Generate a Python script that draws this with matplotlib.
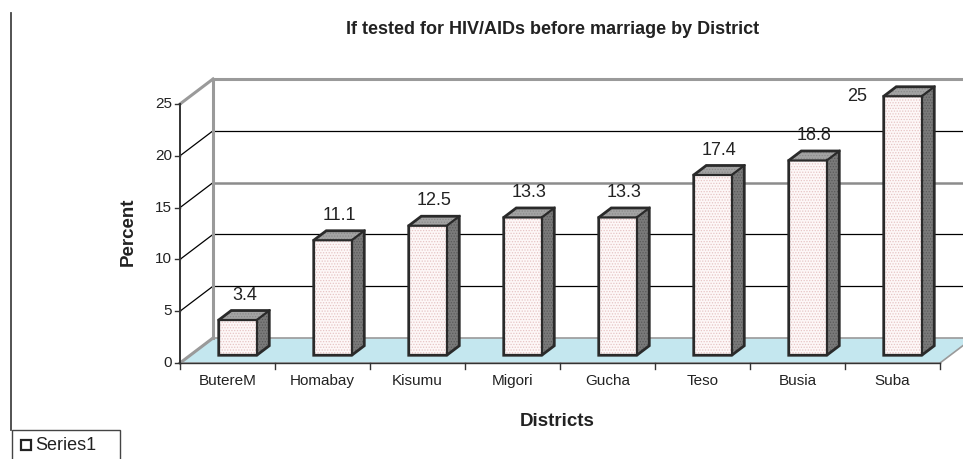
import numpy as np
import matplotlib
matplotlib.use("Agg")
import matplotlib.pyplot as plt
from matplotlib.patches import Polygon, Rectangle
from matplotlib.lines import Line2D

plt.rcParams['font.family'] = ['Liberation Sans', 'DejaVu Sans']
plt.rcParams['hatch.linewidth'] = 0.6

districts = ["ButereM", "Homabay", "Kisumu", "Migori", "Gucha", "Teso", "Busia", "Suba"]
percent = [3.4, 11.1, 12.5, 13.3, 13.3, 17.4, 18.8, 25]
yticks = [0, 5, 10, 15, 20, 25]

title = "If tested for HIV/AIDs before marriage by District"
xlabel = "Districts"
ylabel = "Percent"
series_name = "Series1"

# pixel scale of the front plane
W, H = 963, 459
x0px, y0px = 180, 363      # origin of front plane
cat_px = 95.0               # pixels per category
unit_px = 10.36             # pixels per percent

# oblique depth of the chart box (data units)
DX = 33 / cat_px
DY = 25 / unit_px
ncat = len(districts)
ymax = yticks[-1]

# bars sit in the middle of the depth
f0 = 0.31
fb = 0.38
bw = 0.4

fig = plt.figure(figsize=(W / 100, H / 100), dpi=100)
ax = fig.add_axes([0, 0, 1, 1])
ax.set_xlim(-x0px / cat_px, (W - x0px) / cat_px)
ax.set_ylim((y0px - H) / unit_px, y0px / unit_px)
ax.axis("off")

gray = "#9a9a9a"
dark = "#2a2a2a"

# back wall + floor
ax.add_patch(Polygon([(DX, DY), (ncat + DX, DY), (ncat + DX, ymax + DY), (DX, ymax + DY)],
                     closed=True, facecolor="white", edgecolor="none", zorder=1))
ax.add_patch(Polygon([(0, 0), (ncat, 0), (ncat + DX, DY), (DX, DY)],
                     closed=True, facecolor="#c4e7ef", edgecolor=gray, lw=1.2, zorder=2))

# gridlines on back and side wall
for t in yticks[1:-1]:
    c, lw = ("#8c8c8c", 1.8) if t == 15 else ("black", 0.9)
    ax.plot([DX, ncat + DX], [t + DY, t + DY], color=c, lw=lw, zorder=2)
    ax.plot([0, DX], [t, t + DY], color="black", lw=0.9, zorder=2)

# wall edges
ax.plot([DX, ncat + DX], [ymax + DY, ymax + DY], color=gray, lw=2.2, zorder=3)
ax.plot([DX, DX], [DY, ymax + DY], color=gray, lw=2.2, zorder=3)
ax.plot([0, DX], [ymax, ymax + DY], color=gray, lw=2.2, zorder=3)
ax.plot([0, DX], [0, DY], color=gray, lw=2.2, zorder=3)

# front axes
ax.plot([0, 0], [0, ymax], color="#333333", lw=1.4, zorder=4)
ax.plot([0, ncat], [0, 0], color="#333333", lw=1.0, zorder=4)
tk = 5 / cat_px
for t in yticks:
    ax.plot([-tk, 0], [t, t], color="#333333", lw=1.0, zorder=4)
    ax.text(-8 / cat_px, t, str(t), ha="right", va="center", fontsize=11, color="#222222")
for i in range(ncat + 1):
    ax.plot([i, i], [0, -6 / unit_px], color="#333333", lw=1.0, zorder=4)
for i, name in enumerate(districts):
    ax.text(i + 0.5, -18 / unit_px, name, ha="center", va="center", fontsize=11, color="#222222")

# 3d columns
bdx, bdy = fb * DX, fb * DY
for i, v in enumerate(percent):
    xa = i + 0.5 - bw / 2 + f0 * DX
    xb = xa + bw
    yb = f0 * DY
    yt = yb + v
    ax.add_patch(Polygon([(xa, yb), (xb, yb), (xb, yt), (xa, yt)], closed=True,
                         facecolor="#fdf7f7", edgecolor="#e6c4c4", lw=0, hatch="......", zorder=5))
    ax.add_patch(Polygon([(xb, yb), (xb + bdx, yb + bdy), (xb + bdx, yt + bdy), (xb, yt)], closed=True,
                         facecolor="#7a7a7a", edgecolor="#5a5a5a", lw=0, hatch="......", zorder=5))
    ax.add_patch(Polygon([(xa, yt), (xb, yt), (xb + bdx, yt + bdy), (xa + bdx, yt + bdy)], closed=True,
                         facecolor="#a4a4a4", edgecolor="#8a8a8a", lw=0, hatch="......", zorder=5))
    outline = [(xa, yb), (xb, yb), (xb + bdx, yb + bdy), (xb + bdx, yt + bdy),
               (xa + bdx, yt + bdy), (xa, yt)]
    ax.add_patch(Polygon(outline, closed=True, facecolor="none", edgecolor=dark, lw=2.0, zorder=6))
    ax.plot([xa, xb, xb + bdx], [yt, yt, yt + bdy], color=dark, lw=1.6, zorder=6)
    ax.plot([xb, xb], [yb, yt], color=dark, lw=1.6, zorder=6)

    ly = yt + 2.4
    if ly > ymax + DY:
        ax.text(xa - 17 / cat_px, yt, f"{v:g}", ha="right", va="center",
                fontsize=13, color="#222222", zorder=7)
    else:
        ax.text((xa + xb) / 2 + 0.07, ly, f"{v:g}", ha="center", va="center",
                fontsize=13, color="#222222", zorder=7)

# titles
ax.text(3.92, (y0px - 30) / unit_px, title, ha="center", va="center",
        fontsize=13, fontweight="bold", color="#222222")
ax.text(3.97, (y0px - 421) / unit_px, xlabel, ha="center", va="center",
        fontsize=13.5, fontweight="bold", color="#222222")
ax.text((128 - x0px) / cat_px, (y0px - 232) / unit_px, ylabel, ha="center", va="center",
        rotation=90, fontsize=13.5, fontweight="bold", color="#222222")

# left frame edge and legend box
fig.add_artist(Line2D([11 / W, 11 / W], [1 - 13 / H, 1 - 430 / H], color="#444444", lw=1.3))
fig.add_artist(Rectangle((12 / W, -0.01), 108 / W, 0.01 + 29 / H, transform=fig.transFigure,
                         facecolor="white", edgecolor="#444444", lw=1.0))
fig.add_artist(Rectangle((21 / W, 1 - 450 / H), 10 / W, 10 / H, transform=fig.transFigure,
                         facecolor="white", edgecolor="#222222", lw=1.6))
fig.text(35 / W, 1 - 445 / H, series_name, ha="left", va="center", fontsize=13, color="#222222")

fig.savefig("out.png", dpi=100)
